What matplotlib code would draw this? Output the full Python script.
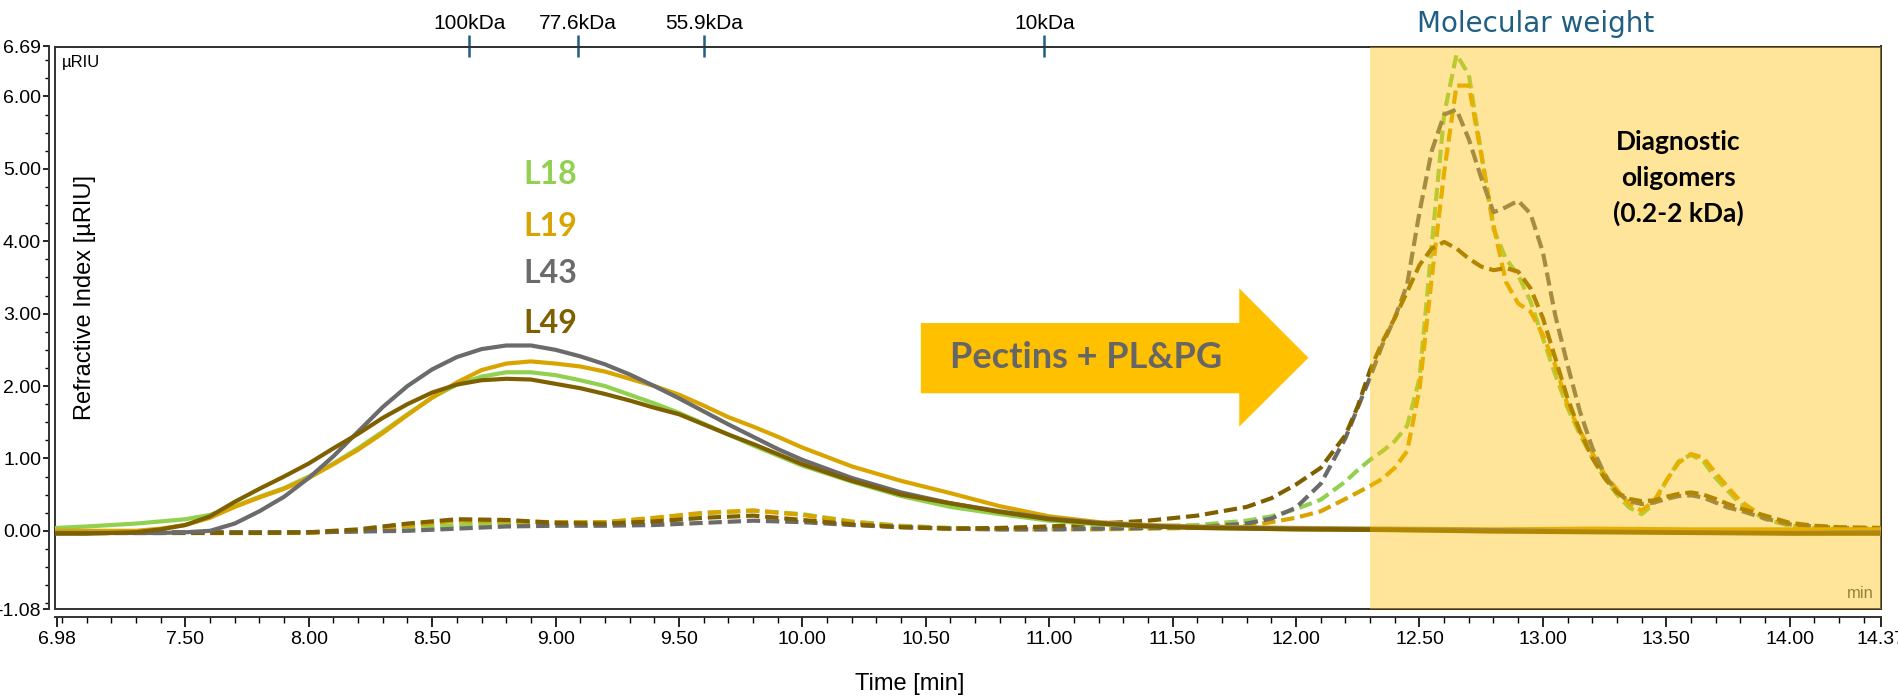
import numpy as np
import matplotlib
matplotlib.use("Agg")
import matplotlib.pyplot as plt
from matplotlib.patches import Polygon, Rectangle
from matplotlib.ticker import FixedLocator, FormatStrFormatter

# ====================================================
# retention times (min)
t_solid = [6.98, 7.1, 7.2, 7.3, 7.4, 7.5, 7.6, 7.7, 7.8, 7.9,
           8.0, 8.1, 8.2, 8.3, 8.4, 8.5, 8.6, 8.7, 8.8, 8.9,
           9.0, 9.1, 9.2, 9.3, 9.4, 9.5, 9.6, 9.7, 9.8, 9.9,
           10.0, 10.2, 10.4, 10.6, 10.8, 11.0, 11.2, 11.4, 11.6, 11.8,
           12.0, 12.4, 12.8, 13.2, 13.6, 14.0, 14.37]

t_dash = [6.98, 7.2, 7.4, 7.6, 7.8,
          8.0, 8.2, 8.4, 8.6, 8.8, 9.0, 9.2, 9.4, 9.6, 9.8,
          10.0, 10.2, 10.4, 10.6, 10.8,
          11.0, 11.2, 11.4, 11.6, 11.8,
          11.9, 12.0, 12.1, 12.2, 12.25,
          12.3, 12.35, 12.4, 12.45, 12.5, 12.55, 12.6, 12.65, 12.7, 12.75,
          12.8, 12.85, 12.9, 12.95, 13.0, 13.05, 13.1, 13.15, 13.2, 13.25,
          13.3, 13.35, 13.4, 13.45, 13.5, 13.55, 13.6, 13.65, 13.7, 13.75, 13.8,
          13.9, 14.0, 14.1, 14.2, 14.37]

# untreated samples (solid)
L18_solid = [0.04, 0.06, 0.08, 0.10, 0.13, 0.16, 0.22, 0.34, 0.47, 0.59,
             0.75, 0.93, 1.14, 1.37, 1.61, 1.84, 2.02, 2.13, 2.19, 2.19,
             2.15, 2.08, 2.00, 1.88, 1.76, 1.63, 1.48, 1.33, 1.18, 1.04,
             0.90, 0.68, 0.48, 0.33, 0.23, 0.14, 0.09, 0.06, 0.04, 0.03,
             0.02, 0.01, 0.00, 0.00, 0.00, 0.00, 0.00]
L19_solid = [0.00, 0.00, 0.00, 0.00, 0.03, 0.08, 0.18, 0.33, 0.46, 0.58,
             0.73, 0.92, 1.12, 1.35, 1.60, 1.84, 2.05, 2.22, 2.31, 2.34,
             2.31, 2.27, 2.20, 2.10, 2.00, 1.88, 1.73, 1.57, 1.44, 1.30,
             1.15, 0.89, 0.69, 0.52, 0.34, 0.20, 0.12, 0.08, 0.06, 0.05,
             0.04, 0.03, 0.02, 0.03, 0.02, 0.02, 0.02]
L43_solid = [-0.03, -0.03, -0.03, -0.03, -0.03, -0.02, 0.00, 0.10, 0.27, 0.47,
             0.73, 1.03, 1.37, 1.71, 2.00, 2.23, 2.40, 2.51, 2.56, 2.56,
             2.50, 2.41, 2.30, 2.16, 2.00, 1.83, 1.65, 1.47, 1.30, 1.13,
             0.98, 0.73, 0.53, 0.38, 0.27, 0.17, 0.11, 0.07, 0.05, 0.04,
             0.03, 0.02, 0.01, -0.01, -0.02, -0.03, -0.02]
L49_solid = [-0.04, -0.04, -0.03, -0.02, 0.02, 0.08, 0.20, 0.40, 0.58, 0.75,
             0.93, 1.14, 1.34, 1.56, 1.75, 1.91, 2.02, 2.08, 2.10, 2.09,
             2.03, 1.97, 1.89, 1.80, 1.70, 1.61, 1.47, 1.33, 1.20, 1.06,
             0.92, 0.69, 0.50, 0.38, 0.26, 0.16, 0.10, 0.06, 0.04, 0.03,
             0.02, 0.01, -0.01, -0.02, -0.03, -0.04, -0.04]

# after pectin lyase + polygalacturonase (dashed)
L18_dash = [-0.02, -0.02, -0.02, -0.02, -0.02,
            -0.02, -0.01, 0.03, 0.08, 0.10, 0.10, 0.12, 0.17, 0.24, 0.28,
            0.23, 0.13, 0.07, 0.04, 0.03,
            0.03, 0.04, 0.06, 0.08, 0.14,
            0.20, 0.30, 0.43, 0.68, 0.84,
            0.98, 1.10, 1.24, 1.45, 2.10, 3.95, 5.75, 6.58, 6.30, 5.23,
            4.17, 3.76, 3.53, 3.17, 2.66, 2.16, 1.70, 1.33, 1.01, 0.73,
            0.50, 0.32, 0.23, 0.37, 0.69, 0.96, 1.05, 0.96, 0.73, 0.55, 0.37,
            0.16, 0.07, 0.04, 0.03, 0.02]
L19_dash = [-0.03, -0.03, -0.03, -0.03, -0.03,
            -0.03, 0.00, 0.07, 0.14, 0.13, 0.12, 0.12, 0.18, 0.25, 0.28,
            0.22, 0.12, 0.06, 0.03, 0.02,
            0.02, 0.02, 0.03, 0.04, 0.07,
            0.12, 0.18, 0.27, 0.44, 0.53,
            0.62, 0.72, 0.87, 1.10, 1.95, 3.50, 4.95, 6.15, 6.15, 5.20,
            4.22, 3.44, 3.14, 3.03, 2.71, 2.29, 1.74, 1.38, 1.08, 0.78,
            0.57, 0.37, 0.28, 0.41, 0.69, 0.94, 1.06, 1.01, 0.80, 0.60, 0.41,
            0.18, 0.08, 0.05, 0.03, 0.02]
L43_dash = [-0.02, -0.02, -0.02, -0.02, -0.02,
            -0.02, -0.01, 0.00, 0.03, 0.06, 0.07, 0.07, 0.08, 0.11, 0.14,
            0.12, 0.08, 0.05, 0.03, 0.02,
            0.02, 0.03, 0.04, 0.05, 0.10,
            0.17, 0.32, 0.65, 1.28, 1.70,
            2.12, 2.57, 2.94, 3.40, 4.40, 5.25, 5.75, 5.82, 5.41, 4.88,
            4.40, 4.47, 4.56, 4.38, 3.85, 2.98, 2.29, 1.65, 1.15, 0.78,
            0.53, 0.41, 0.37, 0.39, 0.44, 0.48, 0.49, 0.46, 0.39, 0.32, 0.28,
            0.17, 0.09, 0.06, 0.04, 0.03]
L49_dash = [-0.03, -0.03, -0.03, -0.03, -0.03,
            -0.02, 0.02, 0.10, 0.16, 0.15, 0.11, 0.10, 0.13, 0.18, 0.21,
            0.15, 0.09, 0.05, 0.03, 0.04,
            0.06, 0.10, 0.14, 0.21, 0.33,
            0.45, 0.64, 0.87, 1.32, 1.72,
            2.22, 2.61, 2.94, 3.30, 3.67, 3.90, 3.99, 3.90, 3.76, 3.65,
            3.60, 3.63, 3.58, 3.35, 2.94, 2.39, 1.83, 1.38, 1.01, 0.73,
            0.53, 0.44, 0.41, 0.42, 0.47, 0.51, 0.53, 0.50, 0.44, 0.37, 0.31,
            0.21, 0.11, 0.07, 0.05, 0.04]

samples = ["L18", "L19", "L43", "L49"]
colors = ["#92D050", "#D9A400", "#6B6B6B", "#7F6000"]
label_y = [4.92, 4.20, 3.56, 2.87]

# molecular weight calibration marks
kda_times = [8.65, 9.09, 9.60, 10.98]
kda_labels = ["100kDa", "77.6kDa", "55.9kDa", "10kDa"]

x_major = [6.98, 7.5, 8.0, 8.5, 9.0, 9.5, 10.0, 10.5, 11.0, 11.5,
           12.0, 12.5, 13.0, 13.5, 14.0, 14.37]
y_major = [-1.08, 0.0, 1.0, 2.0, 3.0, 4.0, 5.0, 6.0, 6.69]

oligo_start = 12.30
t_end = 14.37


# ====================================================
def setup_axes(fig):
	ax = fig.add_axes([55/1899, 87/696, 1826/1899, 562.5/696])
	ax.set_xlim(6.98 - 2/246.7, t_end)
	ax.set_ylim(-1.08, 6.69)

	ax.spines['left'].set_position(('outward', 4.5))
	ax.spines['bottom'].set_position(('outward', 6))
	for s in ax.spines.values():
		s.set_color('#333333')
		s.set_linewidth(1.4)
	frame = Rectangle((0, 0), 1, 1, transform=ax.transAxes, fill=False,
					  edgecolor='#333333', linewidth=1.4, clip_on=False, zorder=2.5)
	ax.add_patch(frame)

	ax.xaxis.set_major_locator(FixedLocator(x_major))
	ax.xaxis.set_minor_locator(FixedLocator(np.arange(7.0, 14.35, 0.1)))
	ax.xaxis.set_major_formatter(FormatStrFormatter('%.2f'))
	ax.yaxis.set_major_locator(FixedLocator(y_major))
	ax.yaxis.set_minor_locator(FixedLocator(np.arange(-1.0, 6.6, 0.25)))
	ax.yaxis.set_major_formatter(FormatStrFormatter('%.2f'))

	ax.tick_params(axis='x', which='major', length=7, width=1.2, labelsize=14, pad=3)
	ax.tick_params(axis='x', which='minor', length=4.5, width=1.0)
	ax.tick_params(axis='y', which='major', length=4.5, width=1.2, labelsize=14, pad=1)
	ax.tick_params(axis='y', which='minor', length=3, width=1.0)

	# molecular weight scale on top
	sec = ax.secondary_xaxis('top')
	sec.set_xticks(kda_times, labels=kda_labels)
	sec.tick_params(axis='x', direction='inout', length=16, width=1.8,
					color='#1F5F82', labelsize=15, pad=2)
	sec.spines['top'].set_visible(False)
	return ax


# ====================================================
def main():
	plt.rcParams['font.family'] = ['Liberation Sans', 'DejaVu Sans']
	fig = plt.figure(figsize=(18.99, 6.96), dpi=100)
	ax = setup_axes(fig)

	dashed = [L18_dash, L19_dash, L43_dash, L49_dash]
	solid = [L18_solid, L19_solid, L43_solid, L49_solid]

	for vals, c in zip(dashed, colors):
		ax.plot(t_dash, vals, color=c, lw=3.0, ls=(0, (3.2, 1.4)), zorder=3)
	for vals, c in zip(solid, colors):
		ax.plot(t_solid, vals, color=c, lw=3.0, zorder=3)

	# oligomer window
	ax.axvspan(oligo_start, t_end, color='#FFC000', alpha=0.4, lw=0, zorder=5)

	for name, c, y in zip(samples, colors, label_y):
		ax.text(8.98, y, name, color=c, fontsize=23, fontweight='bold',
				family='Lato', ha='center', va='center', zorder=6)

	arrow = Polygon([(10.48, 2.87), (11.77, 2.87), (11.77, 3.35), (12.05, 2.39),
					 (11.77, 1.44), (11.77, 1.90), (10.48, 1.90)],
					closed=True, facecolor='#FFC000', edgecolor='none', zorder=4)
	ax.add_patch(arrow)
	ax.text(11.15, 2.39, 'Pectins + PL&PG', color='#666666', fontsize=26,
			fontweight='bold', family='Lato', ha='center', va='center', zorder=6)

	for y, s in zip([5.37, 4.87, 4.39], ['Diagnostic', 'oligomers', '(0.2-2 kDa)']):
		ax.text(13.55, y, s, color='black', fontsize=19, fontweight='bold',
				family='Lato', ha='center', va='center', zorder=6)

	ax.text(0.996, 0.028, 'min', transform=ax.transAxes, ha='right', va='center',
			fontsize=12, color='#595959', zorder=4)

	fig.text(62/1899, 1 - 62/696, 'µRIU', ha='left', va='center', fontsize=12)
	fig.text(85/1899, 1 - 297/696, 'Refractive Index [µRIU]', rotation=90,
			 ha='center', va='center', fontsize=17)
	fig.text(910/1899, 1 - 684/696, 'Time [min]', ha='center', va='center', fontsize=17)
	fig.text(1536/1899, 1 - 24/696, 'Molecular weight', ha='center', va='center',
			 fontsize=20, color='#1F5F82', family='DejaVu Sans')

	fig.savefig('out.png', dpi=100)


# ====================================================
if __name__ == "__main__":
	main()
